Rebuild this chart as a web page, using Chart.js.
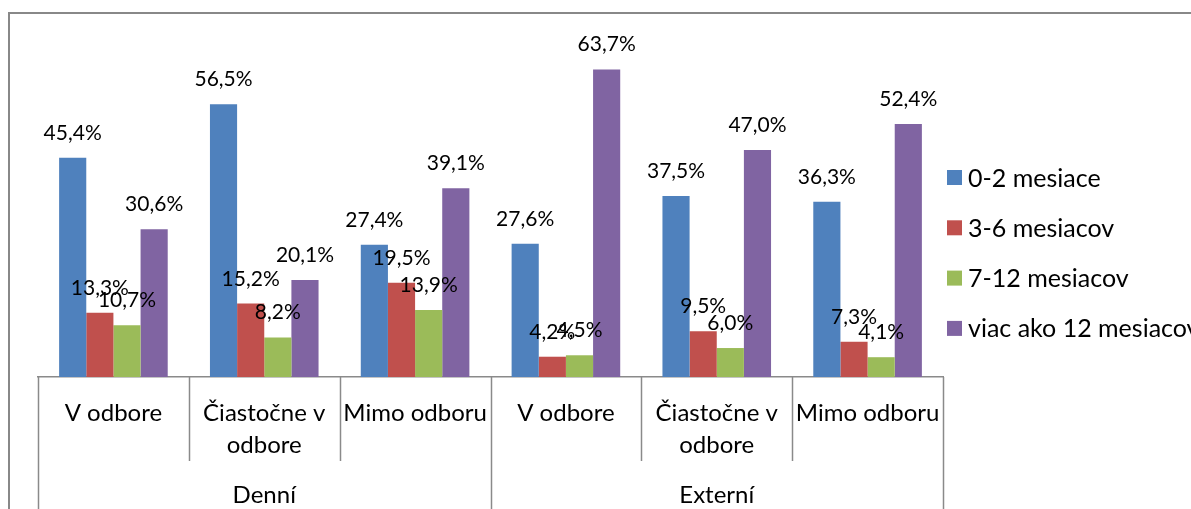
<!DOCTYPE html>
<html>
<head>
<meta charset="utf-8">
<script src="https://cdn.jsdelivr.net/npm/chart.js@4"></script>
<style>
html,body{margin:0;padding:0;background:#fff;overflow:hidden;}
#wrap{position:relative;width:1191px;height:509px;}
#frame{position:absolute;left:8px;top:12px;width:1400px;height:700px;border-top:2px solid #888;border-left:2px solid #888;pointer-events:none;}
canvas{position:absolute;left:0;top:0;}
</style>
</head>
<body>
<div id="wrap">
<canvas id="c" width="1191" height="509"></canvas>
<div id="frame"></div>
</div>
<script>
const categories = ['V odbore', ['Čiastočne v', 'odbore'], 'Mimo odboru', 'V odbore', ['Čiastočne v', 'odbore'], 'Mimo odboru'];
const groups = ['Denní', 'Externí'];
const seriesNames = ['0-2 mesiace', '3-6 mesiacov', '7-12 mesiacov', 'viac ako 12 mesiacov'];
const s0_2 = [45.4, 56.5, 27.4, 27.6, 37.5, 36.3];
const s3_6 = [13.3, 15.2, 19.5, 4.2, 9.5, 7.3];
const s7_12 = [10.7, 8.2, 13.9, 4.5, 6.0, 4.1];
const s12plus = [30.6, 20.1, 39.1, 63.7, 47.0, 52.4];
const colors = ['#4F81BD', '#C0504D', '#9BBB59', '#8064A2'];

const FONT = 'Lato, "Open Sans", sans-serif';
const AXIS_COL = '#8a8a8a';

const overlay = {
  id: 'overlay',
  afterDatasetsDraw(chart) {
    const ctx = chart.ctx;
    ctx.save();
    ctx.fillStyle = '#000';
    ctx.font = '21px ' + FONT;
    ctx.textAlign = 'center';
    ctx.textBaseline = 'alphabetic';
    chart.data.datasets.forEach((ds, di) => {
      const meta = chart.getDatasetMeta(di);
      meta.data.forEach((bar, i) => {
        const txt = ds.data[i].toFixed(1).replace('.', ',') + '%';
        ctx.fillText(txt, bar.x, bar.y - 18);
      });
    });
    ctx.restore();
  },
  afterDraw(chart) {
    const ctx = chart.ctx;
    const xs = chart.scales.x;
    const area = chart.chartArea;
    const n = xs.ticks.length;
    ctx.save();
    ctx.strokeStyle = AXIS_COL;
    ctx.lineWidth = 1.5;
    for (let i = 0; i <= n; i++) {
      let x;
      if (i === 0) x = area.left;
      else if (i === n) x = area.right;
      else x = (xs.getPixelForTick(i - 1) + xs.getPixelForTick(i)) / 2;
      const isGroup = (i % 3 === 0);
      ctx.beginPath();
      ctx.moveTo(Math.round(x) + 0.5, area.bottom);
      ctx.lineTo(Math.round(x) + 0.5, isGroup ? chart.height : area.bottom + 84);
      ctx.stroke();
    }
    // legend
    ctx.font = '25px ' + FONT;
    ctx.textAlign = 'left';
    ctx.textBaseline = 'middle';
    chart.data.datasets.forEach((ds, i) => {
      const cy = 177.5 + i * 50.3;
      ctx.fillStyle = ds.backgroundColor;
      ctx.fillRect(947, cy - 7.5, 15, 15);
      ctx.fillStyle = '#000';
      ctx.fillText(ds.label, 968, cy + 1);
    });
    ctx.restore();
  }
};

new Chart(document.getElementById('c'), {
  type: 'bar',
  data: {
    labels: categories,
    datasets: [
      { label: seriesNames[0], data: s0_2, backgroundColor: colors[0] },
      { label: seriesNames[1], data: s3_6, backgroundColor: colors[1] },
      { label: seriesNames[2], data: s7_12, backgroundColor: colors[2] },
      { label: seriesNames[3], data: s12plus, backgroundColor: colors[3] }
    ]
  },
  options: {
    responsive: false,
    animation: false,
    devicePixelRatio: 1,
    categoryPercentage: 0.72,
    barPercentage: 1.0,
    layout: { padding: { top: 39, left: 38, right: 248, bottom: 0 } },
    plugins: { legend: { display: false }, tooltip: { enabled: false } },
    scales: {
      y: { display: false, min: 0, max: 70 },
      x: {
        weight: 0,
        grid: { display: false },
        border: { display: true, color: AXIS_COL, width: 1.5 },
        ticks: { color: '#000', font: { family: FONT, size: 24, lineHeight: 1.333 }, padding: 12, maxRotation: 0, autoSkip: false },
        afterFit(s) { s.height = 84; }
      },
      x2: {
        type: 'category',
        labels: groups,
        position: 'bottom',
        weight: 1,
        grid: { display: false },
        border: { display: false },
        ticks: { color: '#000', font: { family: FONT, size: 24 }, padding: 12, maxRotation: 0, autoSkip: false },
        afterFit(s) { s.height = 48; }
      }
    }
  },
  plugins: [overlay]
});
</script>
</body>
</html>
